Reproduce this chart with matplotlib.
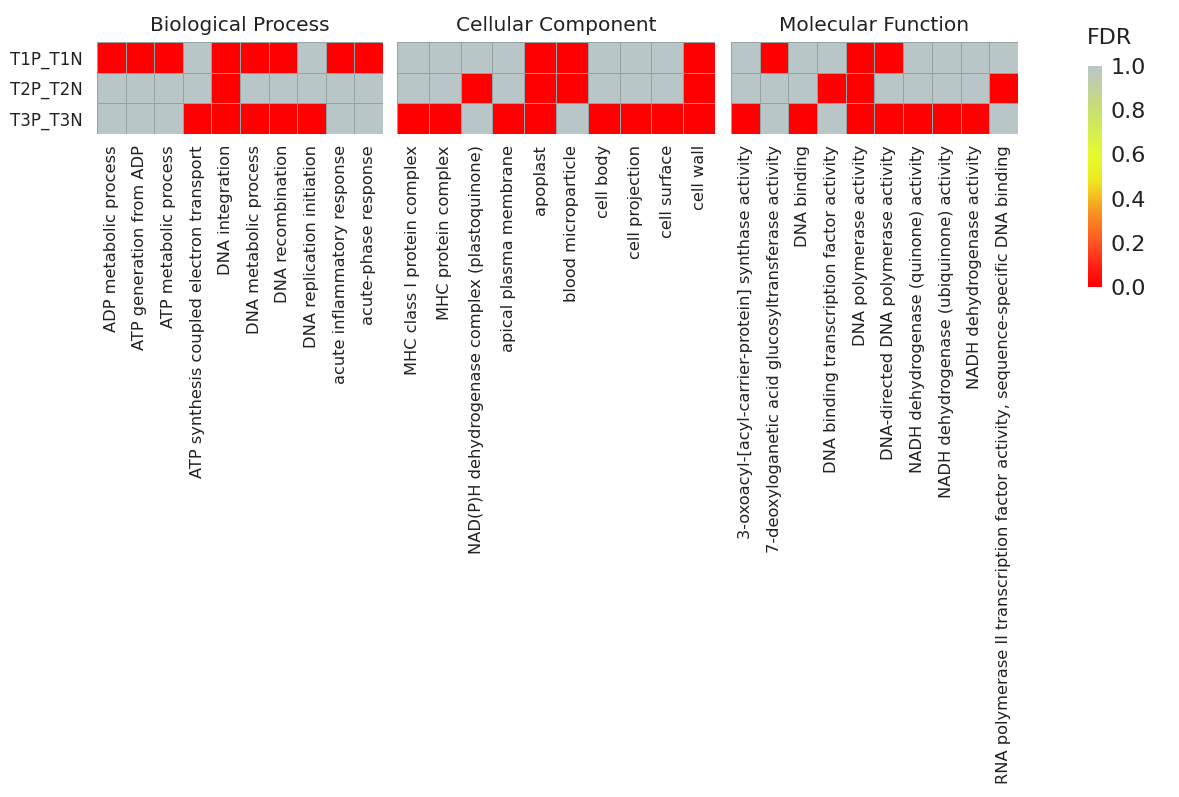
import matplotlib
matplotlib.use("Agg")
import matplotlib.pyplot as plt
import numpy as np
from matplotlib.colors import LinearSegmentedColormap

comparisons = ["T1P_T1N", "T2P_T2N", "T3P_T3N"]

bp_terms = ["ADP metabolic process", "ATP generation from ADP", "ATP metabolic process",
            "ATP synthesis coupled electron transport", "DNA integration",
            "DNA metabolic process", "DNA recombination", "DNA replication initiation",
            "acute inflammatory response", "acute-phase response"]
bp_fdr = [[0, 0, 0, 1, 0, 0, 0, 1, 0, 0],
          [1, 1, 1, 1, 0, 1, 1, 1, 1, 1],
          [1, 1, 1, 0, 0, 0, 0, 0, 1, 1]]

cc_terms = ["MHC class I protein complex", "MHC protein complex",
            "NAD(P)H dehydrogenase complex (plastoquinone)", "apical plasma membrane",
            "apoplast", "blood microparticle", "cell body", "cell projection",
            "cell surface", "cell wall"]
cc_fdr = [[1, 1, 1, 1, 0, 0, 1, 1, 1, 0],
          [1, 1, 0, 1, 0, 0, 1, 1, 1, 0],
          [0, 0, 1, 0, 0, 1, 0, 0, 0, 0]]

mf_terms = ["3-oxoacyl-[acyl-carrier-protein] synthase activity",
            "7-deoxyloganetic acid glucosyltransferase activity", "DNA binding",
            "DNA binding transcription factor activity", "DNA polymerase activity",
            "DNA-directed DNA polymerase activity", "NADH dehydrogenase (quinone) activity",
            "NADH dehydrogenase (ubiquinone) activity", "NADH dehydrogenase activity",
            "RNA polymerase II transcription factor activity, sequence-specific DNA binding"]
mf_fdr = [[1, 0, 1, 1, 0, 0, 1, 1, 1, 1],
          [1, 1, 1, 0, 0, 1, 1, 1, 1, 0],
          [0, 1, 0, 1, 0, 0, 0, 0, 0, 1]]

panels = [("Biological Process", bp_terms, bp_fdr),
          ("Cellular Component", cc_terms, cc_fdr),
          ("Molecular Function", mf_terms, mf_fdr)]

cmap = LinearSegmentedColormap.from_list("fdr", [
    (0.0, "#ff0000"), (0.08, "#ff1a14"), (0.2, "#ff5522"), (0.35, "#f89a22"),
    (0.48, "#eee81e"), (0.6, "#e6fa30"), (0.8, "#c8e070"), (1.0, "#b8c6c8")])

fig = plt.figure(figsize=(11.79, 7.97), dpi=100)
boxes = [[0.0823, 0.832, 0.2426, 0.115],
         [0.3367, 0.832, 0.2698, 0.115],
         [0.6200, 0.832, 0.2434, 0.115]]

for i, (title, terms, fdr) in enumerate(panels):
    ax = fig.add_axes(boxes[i])
    data = np.array(fdr, dtype=float)
    mesh = ax.pcolormesh(data, cmap=cmap, vmin=0, vmax=1,
                         edgecolor="#97a3a3", linewidth=0.5)
    ax.set_xlim(0, data.shape[1])
    ax.set_ylim(data.shape[0], 0)
    ax.set_xticks(np.arange(len(terms)) + 0.5)
    ax.set_xticklabels(terms, rotation=90, fontsize=11.7, color="#222222")
    if i == 0:
        ax.set_yticks(np.arange(len(comparisons)) + 0.5)
        ax.set_yticklabels(comparisons, fontsize=12, color="#222222")
    else:
        ax.set_yticks([])
    ax.tick_params(axis="x", length=0, pad=8)
    ax.tick_params(axis="y", length=0, pad=10)
    for s in ax.spines.values():
        s.set_visible(False)
    ax.set_title(title, fontsize=14.5, color="#222222", pad=8)

cax = fig.add_axes([0.9228, 0.640, 0.0122, 0.277])
cb = fig.colorbar(mesh, cax=cax)
cb.outline.set_visible(False)
cb.set_ticks([0, 0.2, 0.4, 0.6, 0.8, 1.0])
cb.ax.tick_params(length=0, labelsize=16, pad=6, labelcolor="#222222")
fig.text(1087 / 1179, 1 - 44 / 797, "FDR", fontsize=16, color="#222222",
         ha="left", va="baseline")

fig.savefig("out.png", dpi=100)
